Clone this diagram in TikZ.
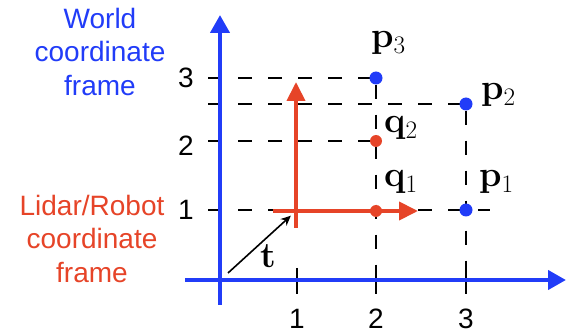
\RequirePackage{fix-cm}
\documentclass[tikz,border=0pt]{standalone}
\usepackage[no-math]{fontspec}
\newfontfamily\helv{Liberation Sans}
\usetikzlibrary{arrows.meta,backgrounds}
\definecolor{wblue}{RGB}{33,60,248}
\definecolor{lred}{RGB}{230,68,40}
\begin{document}
\begin{tikzpicture}[x=1pt,y=-1pt]

\tikzstyle{axis} = [wblue, line width=4.2pt, -{Triangle[length=18pt,width=19pt]}]
\tikzstyle{frame} = [lred, line width=4pt, -{Triangle[length=19pt,width=18pt]}]
\tikzstyle{guide} = [black, line width=1.6pt, dash pattern=on 14pt off 16pt]
\tikzstyle{tick} = [black, line width=1.6pt]
\tikzstyle{bdot} = [circle, fill=wblue, inner sep=0pt, minimum size=13pt]
\tikzstyle{rdot} = [circle, fill=lred, inner sep=0pt, minimum size=12pt]
\tikzstyle{num} = [inner sep=0pt, font=\helv\fontsize{28}{33.5}\selectfont]
\tikzstyle{caption} = [inner sep=0pt, anchor=north, align=center, font=\helv\fontsize{28}{33.5}\selectfont]
\tikzstyle{vec} = [inner sep=0pt, anchor=base west, font=\fontsize{36}{40}\selectfont]
\tikzstyle{arrow} = [black, line width=1.6pt, -{Stealth[length=10pt,width=9pt]}]

\useasboundingbox (0,0) rectangle (566,334);

% points
\node (p3) [bdot] at (376,78) {};
\node (p2) [bdot] at (466,104) {};
\node (p1) [bdot] at (466,210) {};
\node (q2) [rdot] at (376,141) {};
\node (q1) [rdot] at (376,211) {};

% guide lines
\coordinate (y3) at (208,78);
\coordinate (yp2) at (208,104);
\coordinate (yq2) at (208,141);
\coordinate (y1) at (208,210);
\coordinate (e1) at (490,210);
\coordinate (x2) at (376,294);
\coordinate (x3) at (466,294);
\begin{scope}[on background layer]
\draw [guide] (y3) -- (p3.center);
\draw [guide] (yp2) -- (p2.center);
\draw [guide] (yq2) -- (q2.center);
\draw [guide] (y1) -- (e1);
\draw [guide] (p3) -- (x2);
\draw [guide] (p2) -- (x3);
\end{scope}

% world axes
\coordinate (o) at (220,280);
\coordinate (xs) at (185,280);
\coordinate (xe) at (566,280);
\coordinate (ys) at (220,305);
\coordinate (ye) at (220,15);
\foreach \x in {297,376,466}
  \draw [tick] (\x,268) -- (\x,294);
\draw [axis] (xs) -- (xe);
\draw [axis] (ys) -- (ye);

% lidar frame
\coordinate (lo) at (296,211);
\coordinate (lx0) at (273,211);
\coordinate (lx1) at (418,211);
\coordinate (ly0) at (296,228);
\coordinate (ly1) at (296,82);
\draw [frame] (lx0) -- (lx1);
\draw [frame] (ly0) -- (ly1);

% translation
\coordinate (ts) at (228,273);
\draw [arrow, shorten >=7pt] (ts) -- (lo);
\node (t) [vec, anchor=base] at (268,268) {$\mathbf{t}$};

% labels
\node (l3) [num] at (186,78) {3};
\node (l2) [num] at (186,146) {2};
\node (l1) [num] at (186,210) {1};
\node (b1) [num, anchor=base] at (297,329) {1};
\node (b2) [num, anchor=base] at (376,329) {2};
\node (b3) [num, anchor=base] at (466,329) {3};

\node (lp3) [vec] at (371,48) {$\mathbf{p}_3$};
\node (lp2) [vec] at (481,100) {$\mathbf{p}_2$};
\node (lq2) [vec] at (384,133) {$\mathbf{q}_2$};
\node (lq1) [vec] at (384,187) {$\mathbf{q}_1$};
\node (lp1) [vec] at (479,187) {$\mathbf{p}_1$};

\node (world) [caption, text=wblue] at (100,7.6) {World\\coordinate\\frame};
\node (lidar) [caption, text=lred] at (92,194.6) {Lidar/Robot\\coordinate\\frame};

\end{tikzpicture}
\end{document}
